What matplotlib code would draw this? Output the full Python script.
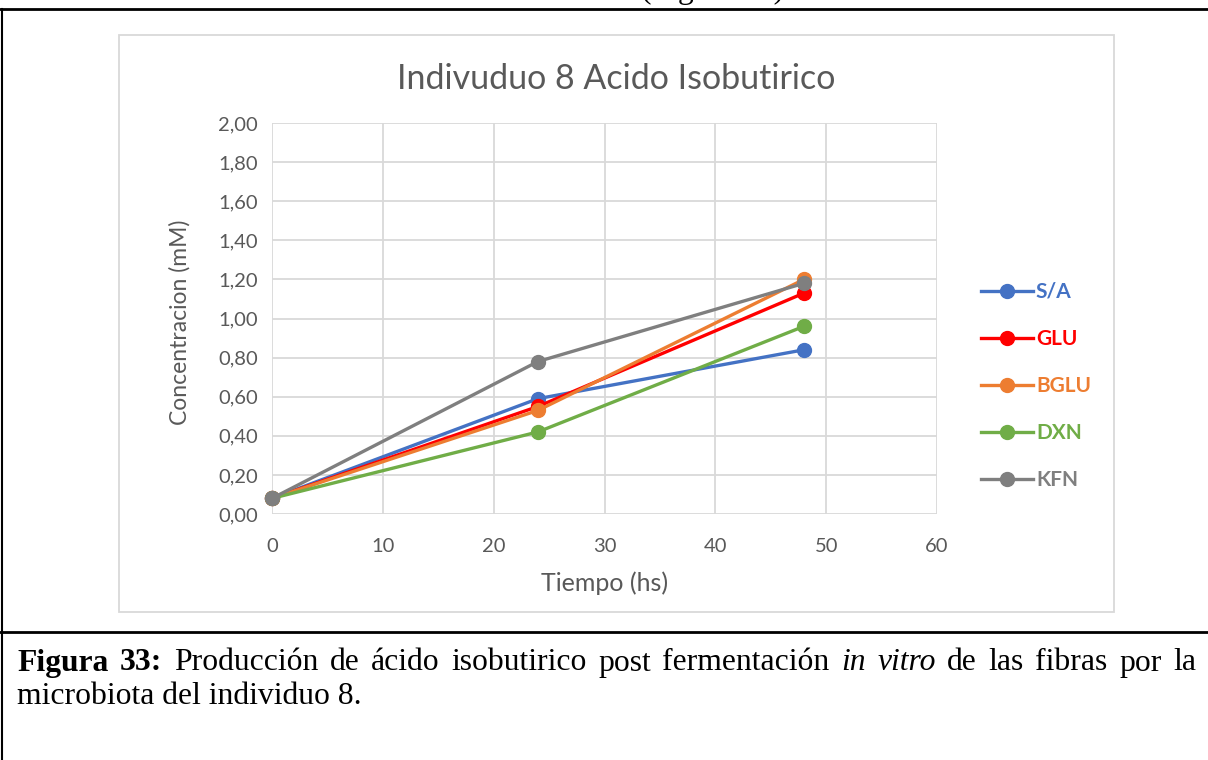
import matplotlib
matplotlib.use("Agg")
import matplotlib.pyplot as plt
from matplotlib.lines import Line2D
from matplotlib.patches import Rectangle

# data (Concentracion mM vs Tiempo hs)
tiempo = [0, 24, 48]
s_a = [0.08, 0.59, 0.84]
glu = [0.08, 0.55, 1.13]
bglu = [0.08, 0.53, 1.20]
dxn = [0.08, 0.42, 0.96]
kfn = [0.08, 0.78, 1.18]

series = [("S/A", s_a, "#4472C4"),
          ("GLU", glu, "#FF0000"),
          ("BGLU", bglu, "#ED7D31"),
          ("DXN", dxn, "#70AD47"),
          ("KFN", kfn, "#7F7F7F")]

yticks = [0, 0.2, 0.4, 0.6, 0.8, 1.0, 1.2, 1.4, 1.6, 1.8, 2.0]
xticks = [0, 10, 20, 30, 40, 50, 60]

W, H = 1208, 760
fig = plt.figure(figsize=(W / 100, H / 100), dpi=100)
fig.patch.set_facecolor("white")

sans = ["Lato", "DejaVu Sans"]
grey = "#595959"

ax = fig.add_axes([272 / W, 1 - 514 / H, (937 - 272) / W, (514 - 123) / H])
for name, vals, col in series:
    ax.plot(tiempo, vals, color=col, lw=2.4, marker="o", markersize=10, label=name,
            zorder=3, clip_on=False)

ax.set_xlim(0, 60)
ax.set_ylim(0, 2.0)
ax.set_xticks(xticks)
ax.set_yticks(yticks)
ax.set_yticklabels([f"{v:.2f}".replace(".", ",") for v in yticks])
ax.grid(True, color="#D9D9D9", lw=1.3)
ax.set_axisbelow(True)
for s in ax.spines.values():
    s.set_visible(False)
ax.tick_params(length=0, labelsize=14.5, labelcolor=grey)
ax.tick_params(axis="x", pad=17)
ax.tick_params(axis="y", pad=10)
for lab in ax.get_xticklabels() + ax.get_yticklabels():
    lab.set_family(sans)
ax.set_xlabel("Tiempo (hs)", fontsize=18, color=grey, family=sans, va="center")
ax.set_ylabel("Concentracion (mM)", fontsize=16.5, color=grey, family=sans, va="center")
ax.xaxis.set_label_coords(0.5, (514 - 583) / 391)
ax.yaxis.set_label_coords((180 - 272) / 665, 0.49)

leg = ax.legend(loc="center left", bbox_to_anchor=(962 / W, 1 - 386 / H),
                bbox_transform=fig.transFigure, frameon=False,
                labelspacing=1.3, handlelength=2.5, handletextpad=0.15,
                prop={"family": sans, "weight": "bold", "size": 15},
                labelcolor="linecolor")

fig.text(616 / W, 1 - 79 / H, "Indivuduo 8 Acido Isobutirico", ha="center", va="center",
         fontsize=24.5, color=grey, family=sans)

# chart area frame
fig.add_artist(Rectangle((119 / W, 1 - 612 / H), (1114 - 119) / W, (612 - 35) / H,
                         transform=fig.transFigure, fill=False, edgecolor="#D9D9D9", lw=1.3))

# document box lines
fig.add_artist(Line2D([0, 1], [1 - 9 / H, 1 - 9 / H], color="black", lw=2, transform=fig.transFigure))
fig.add_artist(Line2D([0, 1], [1 - 632 / H, 1 - 632 / H], color="black", lw=2, transform=fig.transFigure))
fig.add_artist(Line2D([1.5 / W, 1.5 / W], [0, 1 - 9 / H], color="black", lw=1.5, transform=fig.transFigure))

serif = "Liberation Serif"
cap_size = 22.8

# heading of the page above, mostly cut off like in the source
fig.text(713 / W, 1 + 2 / H, "(Figura 33)", ha="center", va="baseline", fontsize=cap_size,
         family=serif, color="black")

# caption, first line justified
fig.canvas.draw()
r = fig.canvas.get_renderer()
words = [("Figura", "bold", "normal"), ("33:", "bold", "normal"),
         ("Producción", "normal", "normal"), ("de", "normal", "normal"),
         ("ácido", "normal", "normal"), ("isobutirico", "normal", "normal"),
         ("post", "normal", "normal"), ("fermentación", "normal", "normal"),
         ("in", "normal", "italic"), ("vitro", "normal", "italic"),
         ("de", "normal", "normal"), ("las", "normal", "normal"),
         ("fibras", "normal", "normal"), ("por", "normal", "normal"),
         ("la", "normal", "normal")]
y1 = 1 - 663 / H
items = []
total = 0
for txt, wt, st in words:
    t = fig.text(0, y1, txt, ha="left", va="center", fontsize=cap_size,
                 family=serif, weight=wt, style=st)
    w = t.get_window_extent(renderer=r).width
    items.append((t, w))
    total += w
left, right = 17, 1196
gap = (right - left - total) / (len(items) - 1)
x = left
for t, w in items:
    t.set_x(x / W)
    x += w + gap
fig.text(left / W, 1 - 696 / H, "microbiota del individuo 8.", ha="left", va="center",
         fontsize=cap_size, family=serif)

fig.savefig("out.png", dpi=100)
